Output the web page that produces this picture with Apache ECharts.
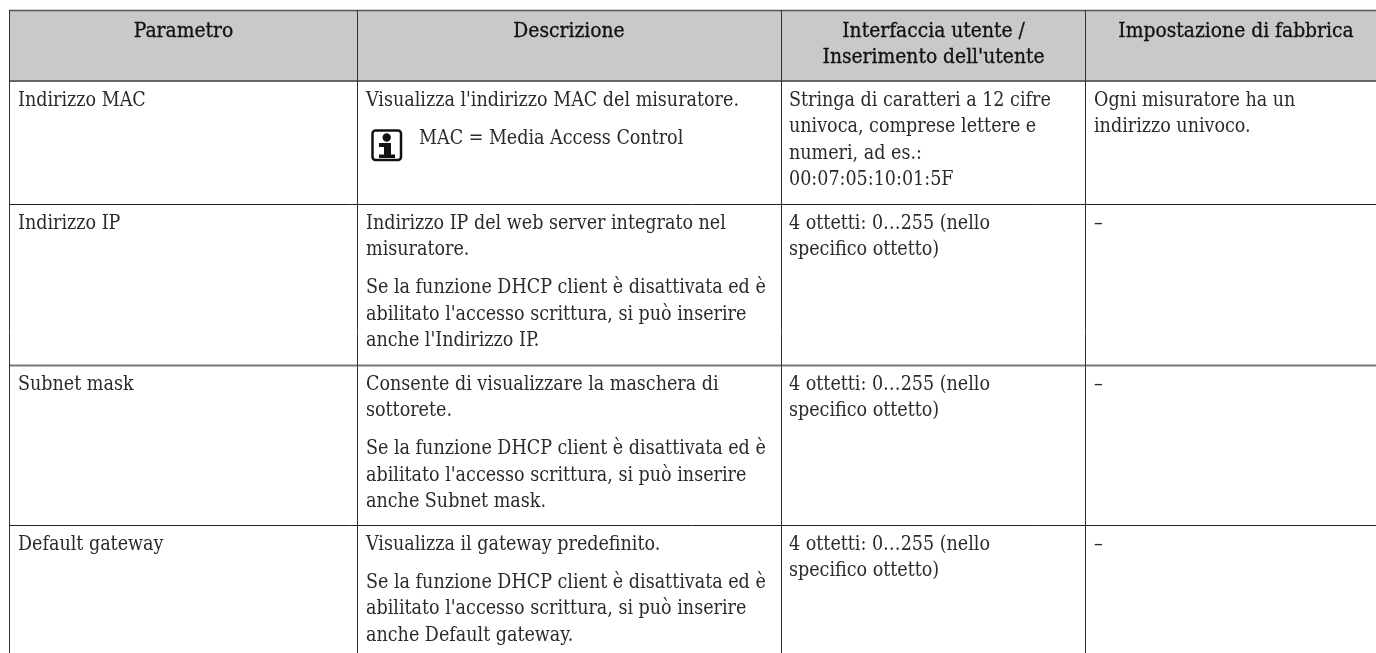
<!DOCTYPE html>
<html><head><meta charset="utf-8">
<style>html,body{margin:0;padding:0;background:#fff}#c{width:1376px;height:653px}</style>
<script src="https://cdn.jsdelivr.net/npm/echarts@6/dist/echarts.min.js"></script></head>
<body><div id="c"></div>
<script>
const headers = [["Parametro"],["Descrizione"],["Interfaccia utente /","Inserimento dell'utente"],["Impostazione di fabbrica"]];
const parametri = ["Indirizzo MAC","Indirizzo IP","Subnet mask","Default gateway"];
const descrizioni = [
 [["Visualizza l'indirizzo MAC del misuratore."],["MAC = Media Access Control"]],
 [["Indirizzo IP del web server integrato nel","misuratore."],["Se la funzione DHCP client è disattivata ed è","abilitato l'accesso scrittura, si può inserire","anche l'Indirizzo IP."]],
 [["Consente di visualizzare la maschera di","sottorete."],["Se la funzione DHCP client è disattivata ed è","abilitato l'accesso scrittura, si può inserire","anche Subnet mask."]],
 [["Visualizza il gateway predefinito."],["Se la funzione DHCP client è disattivata ed è","abilitato l'accesso scrittura, si può inserire","anche Default gateway."]]
];
const interfaccia = [
 ["Stringa di caratteri a 12 cifre","univoca, comprese lettere e","numeri, ad es.:","00:07:05:10:01:5F"],
 ["4 ottetti: 0…255 (nello","specifico ottetto)"],
 ["4 ottetti: 0…255 (nello","specifico ottetto)"],
 ["4 ottetti: 0…255 (nello","specifico ottetto)"]
];
const impostazione = [["Ogni misuratore ha un","indirizzo univoco."],["–"],["–"],["–"]];

const FONT = "'DejaVu Serif Condensed','DejaVu Serif',serif";
const SIZE = 19.5, HEAD_SIZE = 20.8, LH = 26.4, PARA = 11.5, INK = '#2a2a2a';
const colX = [9.5,357.5,781.5,1085.5], rowY = [81,204,365,525], W = 1376, H = 653;
const rowLine = [[1,'#222'],[2,'#777'],[1,'#222']];
const els = [];
function text(s,x,base,opt={}){
  const size = opt.size||SIZE;
  els.push({type:'text',x,y:base-size*0.36,z:5,style:Object.assign({text:s,font:`normal ${size}px ${FONT}`,fill:INK,align:opt.align||'left',verticalAlign:'middle'},opt.style||{})});
}
function line(x1,y1,x2,y2,w,c){els.push({type:'line',z:3,shape:{x1,y1,x2,y2},style:{stroke:c,lineWidth:w}});}
els.push({type:'rect',z:1,shape:{x:9,y:10,width:W-9,height:71},style:{fill:'#c9c9c9'}});
line(9,10.5,W,10.5,1.5,'#555'); line(9,81,W,81,2,'#666');
rowLine.forEach((r,i)=>line(9,rowY[i+1]+.5,W,rowY[i+1]+.5,r[0],r[1]));
colX.forEach(x=>line(x,10,x,H,1,'#333'));
const centers=[183.5,569,933.5,1236];
headers.forEach((h,i)=>h.forEach((s,j)=>text(s,centers[i],39+j*26,{align:'center',size:HEAD_SIZE,style:{fill:'#111',stroke:'#111',lineWidth:.3}})));
const textX=[18,366,789,1094], pad=27;
rowY.forEach((y,r)=>{
  const b=y+pad;
  text(parametri[r],textX[0],b);
  let yy=b;
  descrizioni[r].forEach((p,pi)=>{
    if(pi>0) yy+=PARA;
    p.forEach(s=>{ text(s,(r===0&&pi===1)?419:textX[1],yy); yy+=LH; });
  });
  interfaccia[r].forEach((s,i)=>text(s,textX[2],b+i*LH));
  impostazione[r].forEach((s,i)=>text(s,textX[3],b+i*LH));
});
// info icon
els.push({type:'rect',z:4,shape:{x:372.5,y:130.5,width:28.5,height:29.5,r:3},style:{fill:'#fff',stroke:'#111',lineWidth:2.5}});
els.push({type:'circle',z:5,shape:{cx:386.7,cy:137.5,r:4.2},style:{fill:'#111'}});
els.push({type:'polygon',z:5,shape:{points:[[379,143],[391,143],[391,154.5],[395,154.5],[395,158],[379,158],[379,154.5],[384,154.5],[384,147],[379,147]]},style:{fill:'#111'}});
const chart = echarts.init(document.getElementById('c'),null,{renderer:'canvas'});
chart.setOption({animation:false,backgroundColor:'#fff',graphic:{elements:els}});
</script></body></html>
